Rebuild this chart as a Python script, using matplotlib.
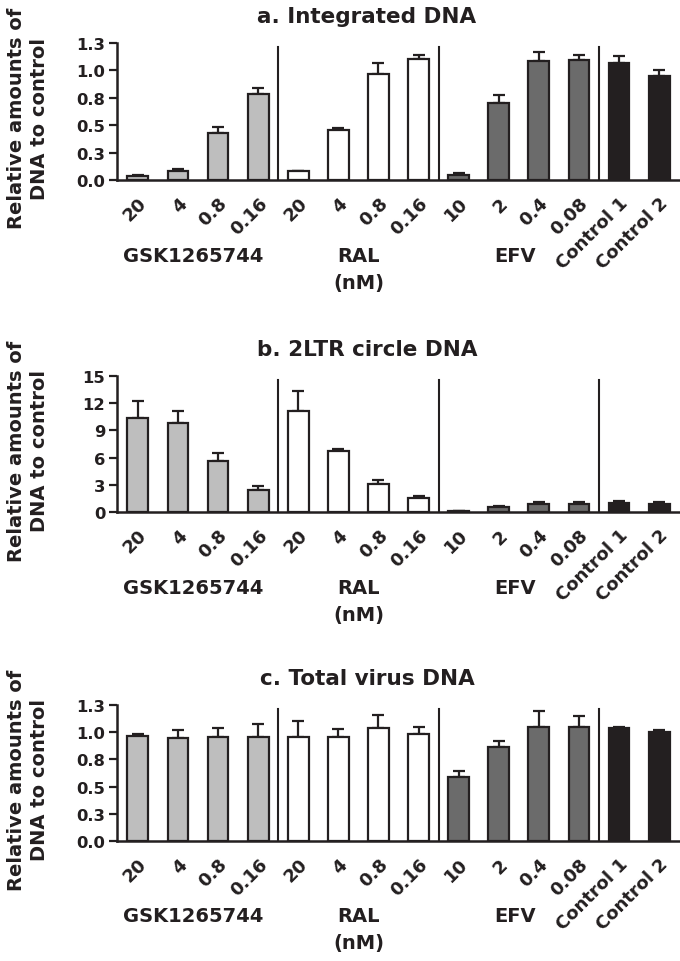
import numpy as np
import matplotlib
matplotlib.use("Agg")
import matplotlib.pyplot as plt
import matplotlib.transforms as mtransforms

plt.rcParams['font.family'] = ['DejaVu Sans']
plt.rcParams['font.weight'] = 'bold'

# concentrations (nM) / sample labels
tick_labels = ['20', '4', '0.8', '0.16', '20', '4', '0.8', '0.16',
               '10', '2', '0.4', '0.08', 'Control 1', 'Control 2']
groups = ['GSK1265744', 'RAL', 'EFV']
group_centers = [1.38, 5.5, 9.4]
separators = [3.5, 7.5, 11.5]

# a. Integrated DNA (mean, upper error)
integrated_mean = [0.037, 0.083, 0.425, 0.786, 0.083, 0.456, 0.966, 1.107,
                   0.046, 0.70, 1.083, 1.092, 1.067, 0.945]
integrated_err = [0.005, 0.015, 0.061, 0.049, 0.0, 0.021, 0.101, 0.037,
                  0.021, 0.074, 0.088, 0.046, 0.061, 0.058]

# b. 2LTR circle DNA
ltr_mean = [10.4, 9.82, 5.62, 2.39, 11.18, 6.73, 3.09, 1.54,
            0.11, 0.51, 0.92, 0.92, 0.99, 0.88]
ltr_err = [1.84, 1.36, 0.92, 0.48, 2.12, 0.18, 0.48, 0.22,
           0.0, 0.15, 0.15, 0.22, 0.22, 0.26]

# c. Total virus DNA
total_mean = [0.965, 0.944, 0.953, 0.959, 0.959, 0.953, 1.039, 0.98,
              0.588, 0.867, 1.051, 1.051, 1.036, 0.999]
total_err = [0.018, 0.076, 0.086, 0.116, 0.147, 0.073, 0.116, 0.071,
             0.052, 0.049, 0.144, 0.095, 0.015, 0.018]

colors = ['#bebebe'] * 4 + ['white'] * 4 + ['#6b6b6b'] * 4 + ['#231f20'] * 2
ink = '#231f20'

panels = [
    ('a. Integrated DNA', integrated_mean, integrated_err,
     [0, 0.25, 0.5, 0.75, 1.0, 1.25], ['0.0', '0.3', '0.5', '0.8', '1.0', '1.3'], 44, 181),
    ('b. 2LTR circle DNA', ltr_mean, ltr_err,
     [0, 3, 6, 9, 12, 15], ['0', '3', '6', '9', '12', '15'], 377, 513),
    ('c. Total virus DNA', total_mean, total_err,
     [0, 0.25, 0.5, 0.75, 1.0, 1.25], ['0.0', '0.3', '0.5', '0.8', '1.0', '1.3'], 706, 842),
]

W, H = 680, 962
LEFT = 117
fig = plt.figure(figsize=(W / 100, H / 100), dpi=100)

for title, mean, err, yt, ytl, top, bottom in panels:
    ax = fig.add_axes([LEFT / W, 1 - bottom / H, (W - LEFT) / W, (bottom - top) / H])
    x = np.arange(len(mean))
    ax.bar(x, mean, width=0.52, color=colors, edgecolor=ink, linewidth=1.6, zorder=3)
    ax.errorbar(x, mean, yerr=[np.zeros(len(err)), err], fmt='none',
                ecolor=ink, elinewidth=1.6, capsize=4.5, capthick=1.6, zorder=2)
    for s in separators:
        ax.axvline(s, ymin=0, ymax=0.97, color=ink, linewidth=1.5)
    ax.set_xlim(-0.52, 13.52)
    ax.set_ylim(0, yt[-1])
    ax.set_yticks(yt)
    ax.set_yticklabels(ytl, fontsize=11.8, fontweight='bold', color=ink)
    ax.set_xticks(x)
    ax.set_xticklabels(tick_labels, rotation=45, ha='right', va='top',
                       rotation_mode='anchor', fontsize=13, fontweight='bold',
                       color=ink)
    offset = mtransforms.ScaledTranslation(8 / 100, 0, fig.dpi_scale_trans)
    for lab in ax.get_xticklabels():
        lab.set_transform(lab.get_transform() + offset)
    ax.tick_params(axis='x', length=0, pad=10)
    ax.tick_params(axis='y', length=5.5, width=1.6, color=ink, pad=3)
    for side in ['top', 'right']:
        ax.spines[side].set_visible(False)
    for side in ['left', 'bottom']:
        ax.spines[side].set_linewidth(1.8)
        ax.spines[side].set_color(ink)

    for g, c in zip(groups, group_centers):
        ax.annotate(g, xy=(c, 0), xycoords=('data', 'axes fraction'),
                    xytext=(0, -75), textcoords='offset pixels',
                    ha='center', va='center', fontsize=14, fontweight='bold',
                    color=ink)
    ax.annotate('(nM)', xy=(5.5, 0), xycoords=('data', 'axes fraction'),
                xytext=(0, -102), textcoords='offset pixels',
                ha='center', va='center', fontsize=14, fontweight='bold',
                color=ink)

    fig.text(367 / W, 1 - (top - 27) / H, title, ha='center', va='center',
             fontsize=15.5, fontweight='bold', color=ink)
    fig.text(28 / W, 1 - ((top + bottom) / 2 + 6) / H,
             'Relative amounts of\nDNA to control', rotation=90,
             ha='center', va='center', fontsize=14, fontweight='bold',
             linespacing=1.3, color=ink)

fig.savefig('out.png', dpi=100)
